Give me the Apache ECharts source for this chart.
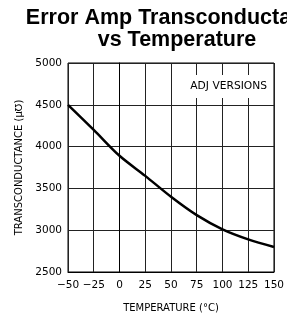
<!DOCTYPE html>
<html>
<head>
<meta charset="utf-8">
<script src="https://cdn.jsdelivr.net/npm/echarts@6/dist/echarts.min.js"></script>
<style>
  html, body { margin: 0; padding: 0; background: #fff; }
  #chart { width: 287px; height: 318px; }
</style>
</head>
<body>
<div id="chart"></div>
<script>
// temperature (°C) and transconductance (µmho)
const temps = [-50, -25, 0, 25, 50, 75, 100, 125, 150];
const gmValues = [4500, 4200, 3890, 3650, 3400, 3180, 3010, 2890, 2800];
const noteText = 'ADJ VERSIONS';
const notePos = [106, 4720];

const chart = echarts.init(document.getElementById('chart'));
const axisFont = 'DejaVu Sans';

chart.setOption({
  animation: false,
  backgroundColor: '#fff',
  title: {
    text: 'Error Amp Transconductance\nvs Temperature',
    left: 172,
    top: 2,
    textAlign: 'center',
    textStyle: {
      fontFamily: 'Liberation Sans',
      fontWeight: 'bold',
      fontSize: 21.5,
      lineHeight: 22,
      color: '#000'
    }
  },
  grid: {
    left: 68, right: 7, top: 63, bottom: 46,
    show: true,
    borderColor: '#000',
    borderWidth: 1
  },
  xAxis: {
    type: 'value',
    min: -50, max: 150, interval: 25,
    name: 'TEMPERATURE (°C)',
    nameLocation: 'middle',
    nameGap: 31,
    nameTextStyle: { fontFamily: axisFont, fontSize: 10, color: '#000' },
    axisLine: { show: true, lineStyle: { color: '#000', width: 1 } },
    axisTick: { show: false },
    axisLabel: {
      fontFamily: axisFont, fontSize: 10.5, color: '#000', margin: 8,
      formatter: v => (v < 0 ? '\u2212' + Math.abs(v) : String(v))
    },
    splitLine: { show: true, lineStyle: { color: '#222', width: 1 } }
  },
  yAxis: {
    type: 'value',
    min: 2500, max: 5000, interval: 500,
    name: 'TRANSCONDUCTANCE (μ℧)',
    nameLocation: 'middle',
    nameRotate: 90,
    nameGap: 43,
    nameTextStyle: { fontFamily: axisFont, fontSize: 10, color: '#000' },
    axisLine: { show: true, lineStyle: { color: '#000', width: 1 } },
    axisTick: { show: false },
    axisLabel: {
      fontFamily: axisFont, fontSize: 10.5, color: '#000', margin: 6,
      formatter: v => String(v)
    },
    splitLine: { show: true, lineStyle: { color: '#222', width: 1 } }
  },
  series: [
    {
      type: 'line',
      data: temps.map((t, i) => [t, gmValues[i]]),
      smooth: 0.3,
      symbol: 'none',
      lineStyle: { color: '#000', width: 2.5 },
      markPoint: {
        symbol: 'rect',
        symbolSize: 0.1,
        silent: true,
        data: [{ coord: notePos, value: noteText }],
        label: {
          show: true,
          position: 'inside',
          formatter: noteText,
          fontFamily: axisFont,
          fontSize: 10.7,
          color: '#000',
          backgroundColor: '#fff',
          padding: [6, 4, 6, 4]
        }
      }
    }
  ]
});
</script>
</body>
</html>
